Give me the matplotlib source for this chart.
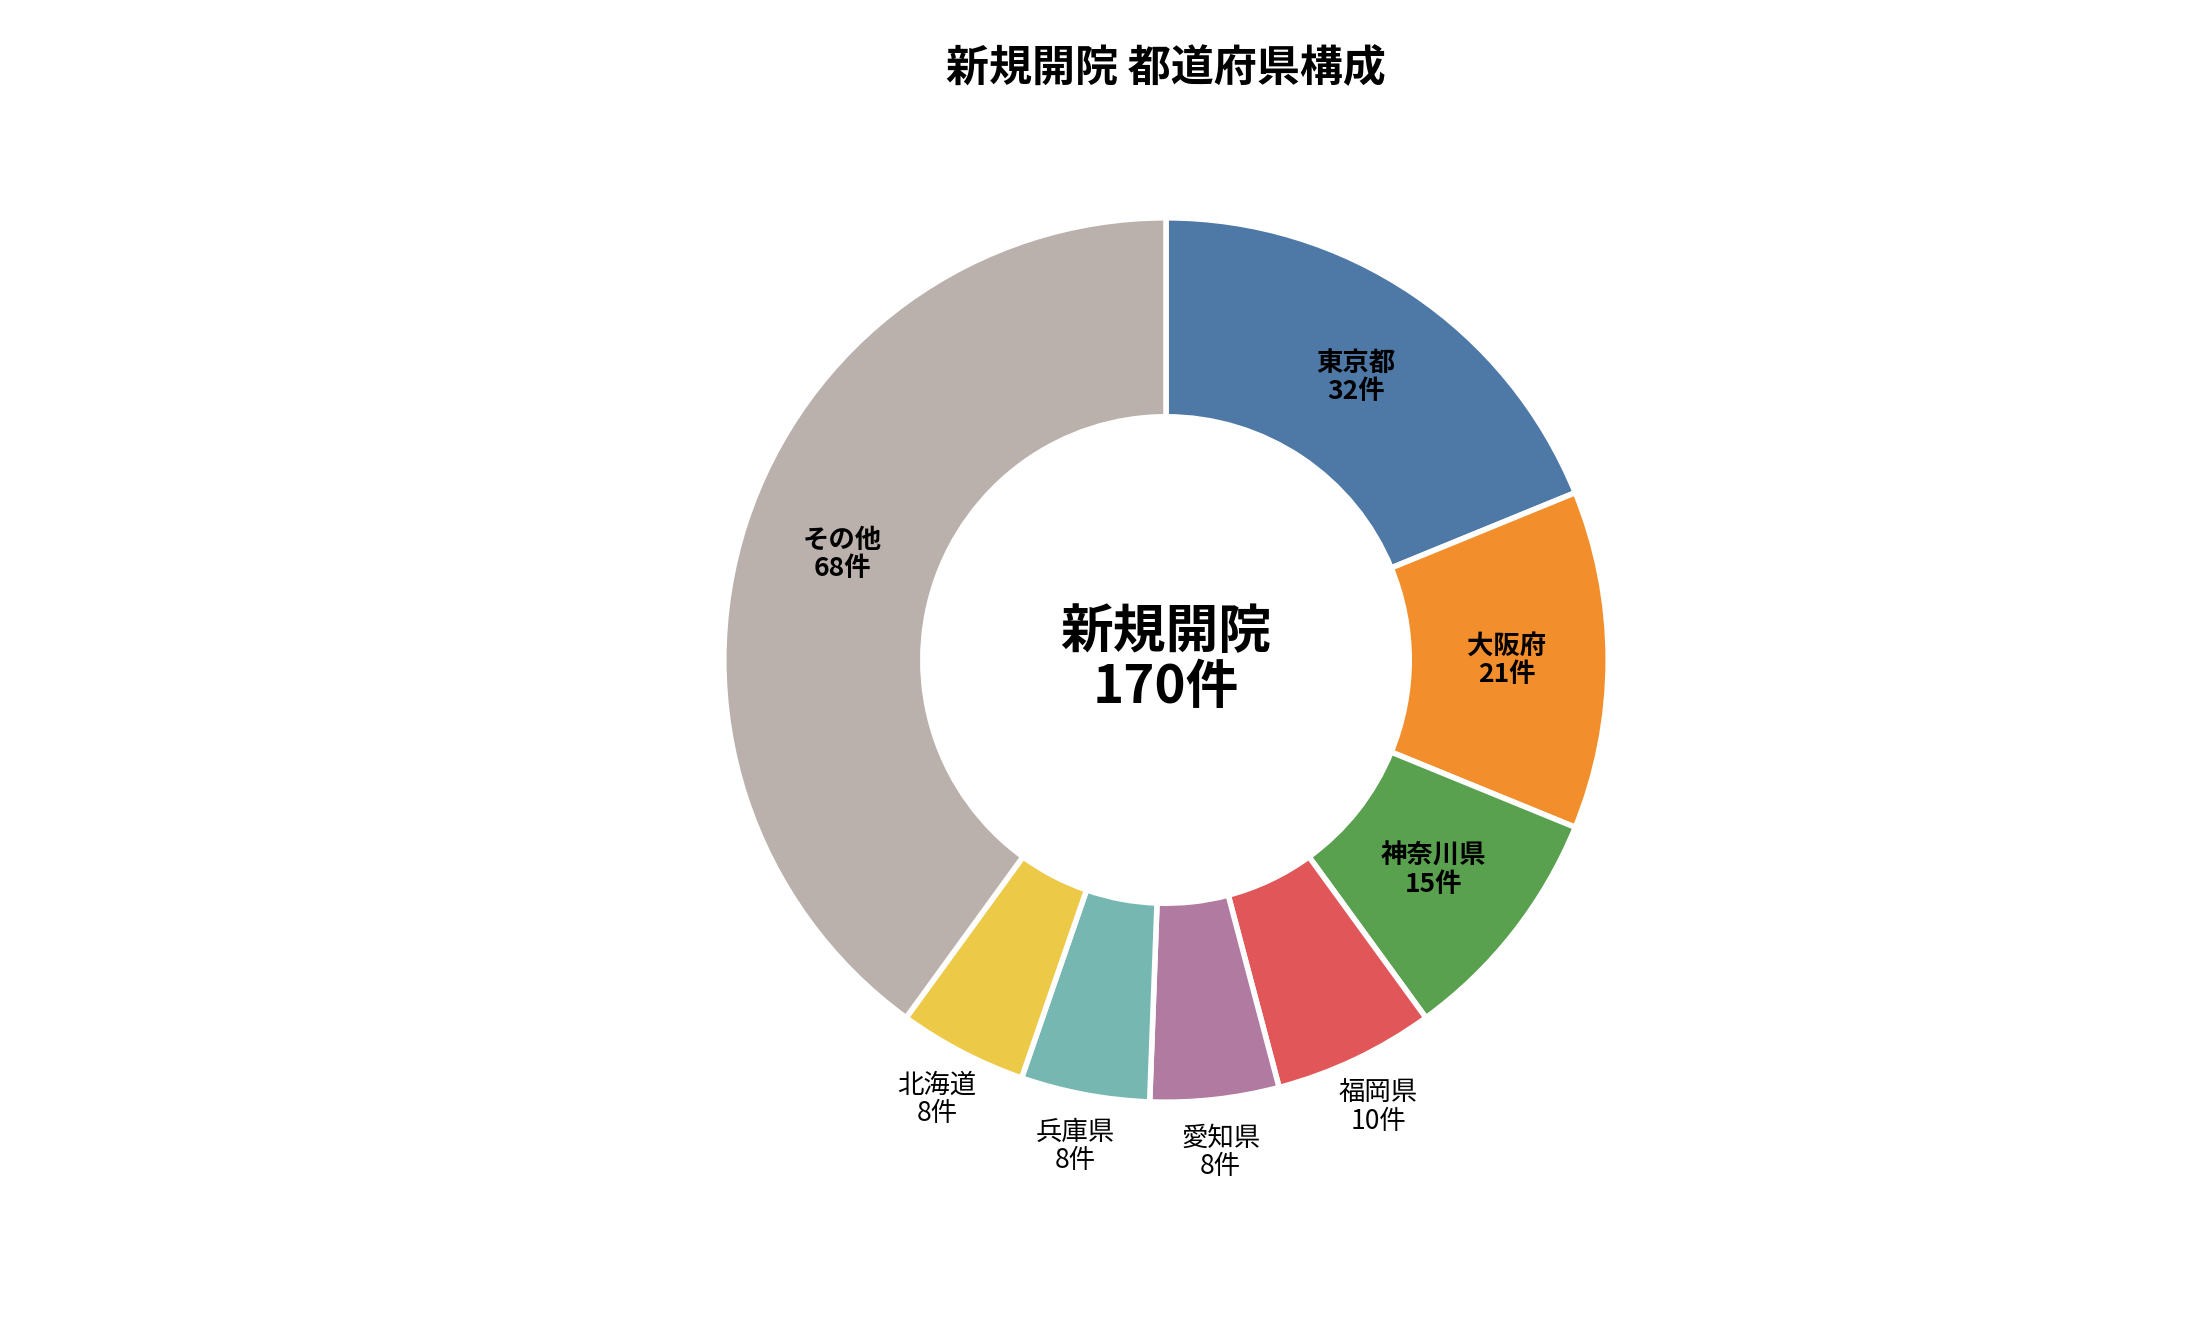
import matplotlib
matplotlib.use("Agg")
import matplotlib.pyplot as plt
import numpy as np

plt.rcParams['font.family'] = ['Noto Sans CJK JP', 'DejaVu Sans']

categories = ["東京都", "大阪府", "神奈川県", "福岡県", "愛知県", "兵庫県", "北海道", "その他"]
values = [32, 21, 15, 10, 8, 8, 8, 68]
colors = ["#4e79a7", "#f28e2b", "#59a14f", "#e15759", "#b07aa1", "#76b7b2", "#edc948", "#bab0ac"]
inside = [True, True, True, False, False, False, False, True]
total = sum(values)

fig = plt.figure(figsize=(22, 13.2), dpi=100)
h = 1.005
w = h * 13.2 / 22
ax = fig.add_axes([0.53 - w / 2, 0.5 - h / 2, w, h])
wedges, _ = ax.pie(values, colors=colors, startangle=90, counterclock=False,
                   radius=1.0, wedgeprops=dict(width=0.45, edgecolor="white", linewidth=4))
for wdg, cat, v, ins in zip(wedges, categories, values, inside):
    ang = np.deg2rad((wdg.theta1 + wdg.theta2) / 2)
    if ins:
        r = 0.77
        ax.text(r * np.cos(ang), r * np.sin(ang), f"{cat}\n{v}件", ha="center", va="center",
                fontsize=19, fontweight="bold", linespacing=1.05)
    else:
        r = 1.12
        ax.text(r * np.cos(ang), r * np.sin(ang), f"{cat}\n{v}件", ha="center", va="center",
                fontsize=19, linespacing=1.05)
ax.text(0, 0, f"新規開院\n{total}件", ha="center", va="center", fontsize=38,
        fontweight="bold", linespacing=1.05)
ax.set_xlim(-1.5, 1.5)
ax.set_ylim(-1.5, 1.5)
ax.set_aspect("equal")
ax.axis("off")
fig.text(0.53, 0.948, "新規開院 都道府県構成", ha="center", va="center", fontsize=31, fontweight="bold")
fig.savefig("out.png")
